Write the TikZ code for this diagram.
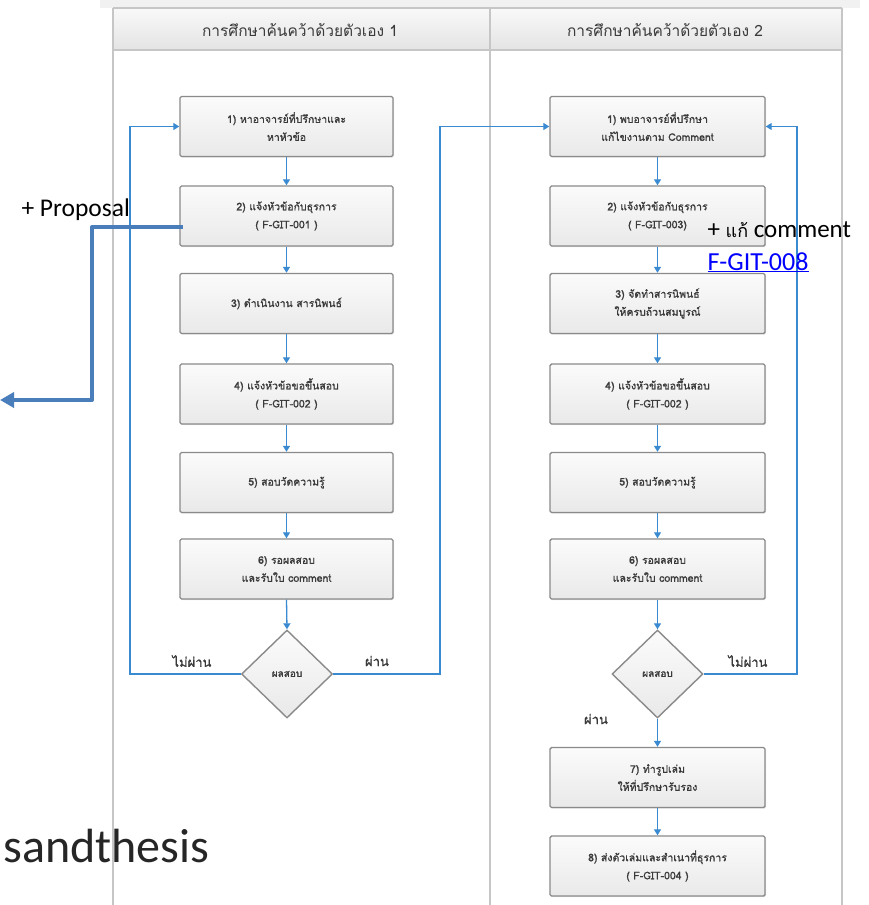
\documentclass[tikz,border=0pt]{standalone}
\usepackage{fontspec}
\setmainfont{Carlito}
\newfontfamily\thaifont[Script=Thai]{Loma}
\newfontfamily\thaiboxfont[Script=Thai,FakeBold=1.2]{Loma}
\usetikzlibrary{shapes.geometric,arrows.meta,shadows}

\definecolor{flowblue}{HTML}{3A8AD2}
\definecolor{notearrow}{HTML}{4A7EBB}
\definecolor{boxline}{HTML}{8A8A8A}
\definecolor{boxtop}{HTML}{FBFBFB}
\definecolor{boxbot}{HTML}{E9E9E9}
\definecolor{boxtext}{HTML}{3A3A3A}
\definecolor{laneline}{HTML}{C6C6C6}
\definecolor{headtop}{HTML}{F9F9F9}
\definecolor{headbot}{HTML}{E4E4E4}
\definecolor{topstrip}{HTML}{F1F1F1}
\definecolor{linkblue}{HTML}{0000FF}

\tikzset{
  stepbox/.style={draw=boxline, line width=1.4pt, rounded corners=1.5pt,
    top color=boxtop, bottom color=boxbot,
    minimum width=213pt, minimum height=60pt, inner sep=0pt, align=center,
    text=boxtext, font=\thaiboxfont\fontsize{10.5}{18}\selectfont,
    drop shadow={opacity=0.2, shadow xshift=1pt, shadow yshift=-1pt}},
  decision/.style={diamond, draw=boxline, line width=1.4pt,
    top color=boxtop, bottom color=boxbot,
    minimum width=91pt, minimum height=88pt, inner sep=0pt,
    text=boxtext, font=\thaiboxfont\fontsize{10}{10}\selectfont},
  flow/.style={draw=flowblue, line width=1.3pt,
    -{Triangle[length=6pt,width=7pt]}},
  branch/.style={text=boxtext, font=\thaiboxfont\fontsize{13}{14}\selectfont},
  lanehead/.style={text=boxtext, font=\thaifont\fontsize{15.5}{16}\selectfont},
  note/.style={anchor=base west, text=black, font=\fontsize{25}{27}\selectfont}
}

\begin{document}
\begin{tikzpicture}[x=1pt,y=-1pt]
\useasboundingbox (0,0) rectangle (868,905);
\fill[white] (0,0) rectangle (868,905);

% swimlane frame with header row
\fill[topstrip] (100,0) rectangle (860,8);
\shade[top color=headtop, bottom color=headbot] (113,8) rectangle (842,50);
\draw[laneline, line width=2pt] (113,8) -- (842,8);
\draw[laneline, line width=2pt] (113,50) -- (842,50);
\draw[laneline, line width=2pt] (113,8) -- (113,905);
\draw[laneline, line width=2pt] (490,8) -- (490,905);
\draw[laneline, line width=2pt] (842,8) -- (842,905);
\node[lanehead] (h1) at (300,30) {การศึกษาค้นคว้าด้วยตัวเอง 1};
\node[lanehead] (h2) at (665,30) {การศึกษาค้นคว้าด้วยตัวเอง 2};

% lane 1
\node[stepbox] (L1) at (286.5,126.5) {1) หาอาจารย์ที่ปรึกษาและ\\หาหัวข้อ};
\node[stepbox] (L2) at (286.5,216) {2) แจ้งหัวข้อกับธุรการ\\( F-GIT-001 )};
\node[stepbox] (L3) at (286.5,303.5) {3) ดำเนินงาน สารนิพนธ์};
\node[stepbox] (L4) at (286.5,394) {4) แจ้งหัวข้อขอขึ้นสอบ\\( F-GIT-002 )};
\node[stepbox] (L5) at (286.5,482.5) {5) สอบวัดความรู้};
\node[stepbox] (L6) at (286.5,569) {6) รอผลสอบ\\และรับใบ comment};
\node[decision] (DL) at (287,674) {ผลสอบ};

% lane 2
\node[stepbox, minimum width=215pt] (R1) at (657.5,126.5) {1) พบอาจารย์ที่ปรึกษา\\แก้ไขงานตาม Comment};
\node[stepbox, minimum width=215pt] (R2) at (657.5,216) {2) แจ้งหัวข้อกับธุรการ\\( F-GIT-003)};
\node[stepbox, minimum width=215pt] (R3) at (657.5,303.5) {3) จัดทำสารนิพนธ์\\ให้ครบถ้วนสมบูรณ์};
\node[stepbox, minimum width=215pt] (R4) at (657.5,394) {4) แจ้งหัวข้อขอขึ้นสอบ\\( F-GIT-002 )};
\node[stepbox, minimum width=215pt] (R5) at (657.5,482.5) {5) สอบวัดความรู้};
\node[stepbox, minimum width=215pt] (R6) at (657.5,569) {6) รอผลสอบ\\และรับใบ comment};
\node[decision] (DR) at (657.5,674) {ผลสอบ};
\node[stepbox, minimum width=215pt] (R7) at (657.5,777.5) {7) ทำรูปเล่ม\\ให้ที่ปรึกษารับรอง};
\node[stepbox, minimum width=215pt] (R8) at (657.5,866) {8) ส่งตัวเล่มและสำเนาที่ธุรการ\\( F-GIT-004 )};

% straight steps
\foreach \a/\b in {L1/L2,L2/L3,L3/L4,L4/L5,L5/L6,L6/DL,
                   R1/R2,R2/R3,R3/R4,R4/R5,R5/R6,R6/DR,DR/R7,R7/R8}
  \draw[flow] (\a.south) -- (\b.north);

% loops from the decisions
\coordinate (failL) at (130,0);
\coordinate (passL) at (440,0);
\coordinate (failR) at (797,0);
\draw[flow] (DL.west) -- (DL.west -| failL) |- (L1.west);
\draw[flow] (DL.east) -- (DL.east -| passL) |- (R1.west);
\draw[flow] (DR.east) -- (DR.east -| failR) |- (R1.east);

\node[branch] (bl1) at (192,661) {ไม่ผ่าน};
\node[branch] (bl2) at (377,661) {ผ่าน};
\node[branch] (bl3) at (748,661) {ไม่ผ่าน};
\node[branch] (bl4) at (596,719) {ผ่าน};

% proposal side arrow
\coordinate (propstart) at (183,227);
\coordinate (propbend) at (92,0);
\coordinate (propend) at (0,400);
\draw[notearrow, line width=4pt, line join=round,
      -{Triangle[length=14pt,width=15pt]}]
  (propstart) -- (propstart -| propbend) |- (propend);

% notes
\node[note, font=\fontsize{25.5}{27}\selectfont] (nprop) at (18,216) {+ Proposal};
\node[note] (nfix) at (704,237) {+ {\thaifont\fontsize{18}{20}\selectfont แก้} comment};
\node[note, text=linkblue, font=\fontsize{26}{28}\selectfont] (nform) at (704,270) {\underline{F-GIT-008}};
\node[anchor=base west, text=black!85, font=\fontsize{48}{50}\selectfont] (nsand) at (0,862) {sandthesis};
\end{tikzpicture}
\end{document}
